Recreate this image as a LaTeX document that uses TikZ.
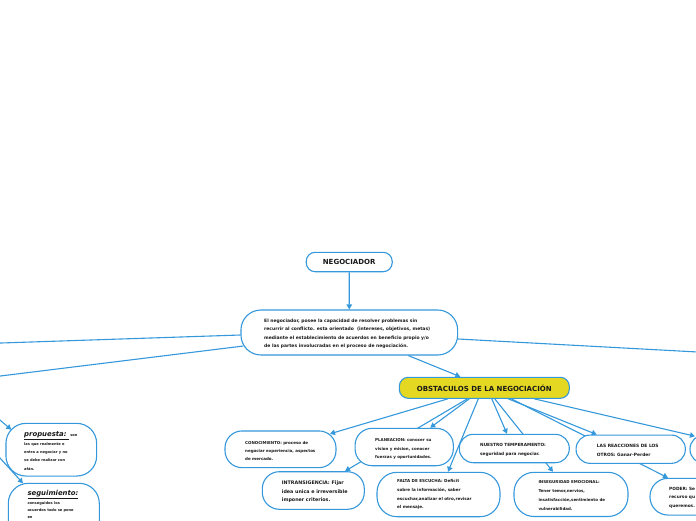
\documentclass[tikz,border=0pt]{standalone}
\usepackage{fontspec}
\setmainfont{DejaVu Sans}
\usetikzlibrary{arrows.meta}
\definecolor{lnblue}{RGB}{52,152,219}
\definecolor{obyellow}{RGB}{228,216,34}
\definecolor{txtc}{RGB}{25,25,25}
\pgfdeclarelayer{bg}
\pgfsetlayers{bg,main}
\newcommand\fsz[2]{\fontsize{#1}{#2}\selectfont\bfseries}
\begin{document}
\begin{tikzpicture}[x=1pt,y=-1pt,
  box/.style={draw=lnblue, line width=1.1pt, fill=white, rounded corners=#1, inner sep=0pt},
  txt/.style={inner sep=0pt, align=left, text=txtc},
  conn/.style={draw=lnblue, line width=1.1pt},
  arr/.style={conn, -{Triangle[length=5pt,width=5.5pt]}}]
\useasboundingbox (0,0) rectangle (696,520);

% ---- boxes ----
\node[box=9pt, minimum width=86pt, minimum height=19.4pt, font=\fsz{7}{8}, text=txtc] (neg) at (349.2,262) {NEGOCIADOR};
\node[box=20pt, minimum width=216.7pt, minimum height=45pt] (main) at (349.3,332.5) {};
\node[box=9pt, fill=obyellow, minimum width=170pt, minimum height=21pt, font=\fsz{7}{8}, text=txtc] (obst) at (484.3,387.8) {OBSTACULOS DE LA NEGOCIACIÓN};
\node[box=17pt, minimum width=111pt, minimum height=36.7pt] (conoc) at (280.5,449.3) {};
\node[box=17pt, minimum width=98.3pt, minimum height=37.4pt] (plan) at (404.2,447) {};
\node[box=14pt, minimum width=110pt, minimum height=28.4pt] (temp) at (514.3,448.5) {};
\node[box=14pt, minimum width=109.3pt, minimum height=28.3pt] (reac) at (630.7,449.2) {};
\node[box=14pt, minimum width=110pt, minimum height=28.3pt] (rnode) at (745,449.2) {};
\node[box=17pt, minimum width=102pt, minimum height=37.6pt] (intr) at (313.3,490.5) {};
\node[box=20pt, minimum width=123pt, minimum height=44.4pt] (falta) at (438.5,494.5) {};
\node[box=20pt, minimum width=114pt, minimum height=44.2pt] (inseg) at (571,494.4) {};
\node[box=18pt, minimum width=110pt, minimum height=36.7pt] (poder) at (705,496.7) {};
\node[box=20pt, minimum width=90.7pt, minimum height=52.7pt] (prop) at (51.3,449.7) {};
\node[box=20pt, minimum width=91pt, minimum height=60pt] (seg) at (53.8,513.3) {};

% ---- texts ----
\node[txt, font=\fsz{4.5}{8.5}, anchor=west] (main-t) at (264,333.6) {El negociador, posee la capacidad de resolver problemas sin\\recurrir al conflicto. esta orientado\ \ (intereses, objetivos, metas)\\mediante el establecimiento de acuerdos en beneficio propio y/o\\de las partes involucradas en el proceso de negociación.};
\node[txt, font=\fsz{4}{8.4}, anchor=west] (conoc-t) at (245,450.9) {CONOCIMIENTO: proceso de\\negociar experiencia, aspectos\\de mercado.};
\node[txt, font=\fsz{4}{8.4}, anchor=west] (plan-t) at (375,449) {PLANEACION: conocer su\\vision y mision, conocer\\fuerzas y oportunidades.};
\node[txt, font=\fsz{4.8}{8.8}, anchor=west] (intr-t) at (281.7,491.7) {INTRANSIGENCIA: Fijar\\idea unica e irreversible\\imponer criterios.};
\node[txt, font=\fsz{4.1}{8.7}, anchor=west] (falta-t) at (397,494.8) {FALTA DE ESCUCHA: Deficit\\sobre la información, saber\\escuchar,analizar el otro,revisar\\el mensaje.};
\node[txt, font=\fsz{4.25}{9.3}, anchor=west] (temp-t) at (480,449.7) {NUESTRO TEMPERAMENTO:\\seguridad para negociar.};
\node[txt, font=\fsz{4.4}{9.3}, anchor=west] (reac-t) at (596.7,450.3) {LAS REACCIONES DE LOS\\OTROS: Ganar-Perder};
\node[txt, font=\fsz{4}{8.8}, anchor=west] (inseg-t) at (538.3,495.5) {INSEGURIDAD EMOCIONAL:\\Tener temor,nervios,\\insatisfacción,sentimiento de\\vulnerabilidad.};
\node[txt, font=\fsz{4.3}{8.5}, anchor=west] (poder-t) at (669,497.4) {PODER: Se\\recurso qu\\queremos.};
\node[txt, anchor=base west] (prop-h) at (24,436.5) {\fsz{6.9}{8}\underline{\textit{propuesta:}\ }\fsz{3.6}{8}\ son};
\node[txt, font=\fsz{3.6}{8.3}, anchor=west] (prop-t) at (24,456.2) {las que realmente e\\entra a negociar y no\\se debe realizar con\\afán.};
\node[txt, anchor=base west] (seg-h) at (27.3,495.5) {\fsz{6.9}{8}\underline{\textit{seguimiento:}}};
\node[txt, font=\fsz{3.6}{7.1}, anchor=north west] (seg-t) at (27.3,501.3) {conseguidos los\\acuerdos todo se pone\\en};

% ---- free ends ----
\coordinate (L1) at (-20,343.7);
\coordinate (L2) at (-20,378.5);
\coordinate (R1) at (716,353);
\coordinate (L3) at (-20,403);
\coordinate (L4) at (-20,436);

% ---- connectors ----
\begin{pgfonlayer}{bg}
\draw[arr] (neg.south) -- (main.north);
\draw[arr] ([xshift=59pt]main.south) -- ([xshift=-24pt]obst.north);
\draw[conn] ([yshift=-2.5pt]main.west) -- (L1);
\draw[conn] ([shift={(3,13.5)}]main.west) -- (L2);
\draw[conn] ([shift={(0,6.5)}]main.east) -- (R1);
\draw[arr] ([xshift=-36.5pt]obst.south) -- ([shift={(49.5,-15.5)}]conoc.center);
\draw[arr] ([xshift=-17pt]obst.south) -- ([xshift=31.7pt]intr.north);
\draw[arr] ([xshift=-15pt]obst.south) -- ([xshift=26pt]plan.north);
\draw[arr] ([xshift=-6pt]obst.south) -- ([xshift=9.5pt]falta.north);
\draw[arr] ([xshift=7.5pt]obst.south) -- ([xshift=-7.3pt]temp.north);
\draw[arr] ([xshift=10.5pt]obst.south) -- ([xshift=-18pt]inseg.north);
\draw[arr] ([xshift=24pt]obst.south) -- ([xshift=-34pt]reac.north);
\draw[arr] ([xshift=27pt]obst.south) -- ([xshift=-37pt]poder.north);
\draw[arr] ([xshift=50pt]obst.south) -- ([shift={(-50,-13)}]rnode.center);
\draw[arr] (L3) -- ([shift={(-40,-20)}]prop.center);
\draw[arr] (L4) -- ([shift={(-30.8,-30)}]seg.center);
\end{pgfonlayer}
\end{tikzpicture}
\end{document}
